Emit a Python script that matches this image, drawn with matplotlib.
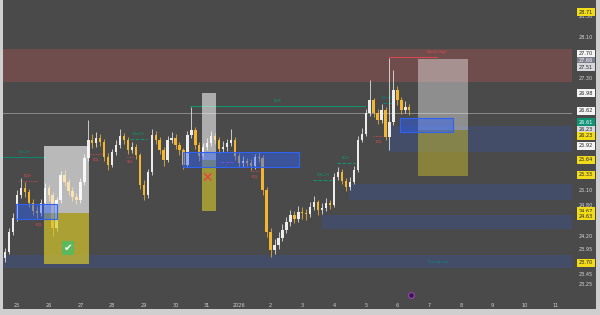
import matplotlib
matplotlib.use("Agg")
import matplotlib.pyplot as plt
import matplotlib.transforms as mtransforms
from matplotlib.patches import Rectangle

# ---------------- data ----------------
date_labels = ['25', '26', '27', '28', '29', '30', '31', '2026', '2', '3', '4',
               '5', '6', '7', '8', '9', '10', '11']
date_days = [0, 1, 2, 3, 4, 5, 6, 7, 8, 9, 10, 11, 12, 13, 14, 15, 16, 17]

candle_start_day = -0.375
candle_step_day = 0.125  # 3h candles

opens = [23.78, 23.89, 24.29, 24.56, 25.01, 25.15, 25.07, 24.85, 24.70, 24.66,
         24.85, 25.15, 25.01, 24.36, 24.91, 25.40, 25.27, 25.09, 24.97, 24.91,
         25.27, 25.74, 26.09, 26.03, 26.13, 26.05, 25.76, 25.60, 25.85, 25.99,
         26.17, 26.09, 25.89, 25.95, 25.79, 25.21, 25.01, 25.46, 26.19, 26.09,
         25.89, 25.70, 26.09, 26.13, 25.99, 25.89, 25.60, 26.19, 26.28, 25.99,
         25.77, 25.95, 26.03, 26.17, 26.09, 25.91, 25.95, 26.03, 26.09, 25.77,
         25.64, 25.68, 25.64, 25.58, 25.76, 25.74, 25.11, 24.29, 23.93, 24.03,
         24.17, 24.32, 24.48, 24.62, 24.54, 24.68, 24.66, 24.64, 24.78, 24.87,
         24.72, 24.76, 24.85, 24.82, 25.36, 25.46, 25.29, 25.17, 25.27, 25.50,
         26.09, 26.21, 26.62, 26.87, 26.62, 26.48, 26.68, 26.15, 26.44, 27.07,
         26.87, 26.68, 26.74]
closes = [23.89, 24.29, 24.56, 25.01, 25.15, 25.07, 24.85, 24.70, 24.66, 24.85,
          25.15, 25.01, 24.36, 24.91, 25.40, 25.27, 25.09, 24.97, 24.91, 25.27,
          25.74, 26.09, 26.03, 26.13, 26.05, 25.76, 25.60, 25.85, 25.99, 26.17,
          26.09, 25.89, 25.95, 25.79, 25.21, 25.01, 25.46, 26.19, 26.09, 25.89,
          25.70, 26.09, 26.13, 25.99, 25.89, 25.60, 26.19, 26.28, 25.99, 25.77,
          25.95, 26.03, 26.17, 26.09, 25.91, 25.95, 26.03, 26.09, 25.77, 25.64,
          25.68, 25.64, 25.58, 25.76, 25.74, 25.11, 24.29, 23.93, 24.03, 24.17,
          24.32, 24.48, 24.62, 24.54, 24.68, 24.66, 24.64, 24.78, 24.87, 24.72,
          24.76, 24.85, 24.82, 25.36, 25.46, 25.29, 25.17, 25.27, 25.50, 26.09,
          26.21, 26.62, 26.87, 26.62, 26.48, 26.68, 26.15, 26.44, 27.07, 26.87,
          26.68, 26.74, 26.68]
highs = [23.98, 24.36, 24.66, 25.10, 25.34, 25.26, 25.12, 24.93, 24.80, 24.94,
         25.24, 25.20, 25.06, 24.98, 25.48, 25.50, 25.33, 25.16, 25.04, 25.35,
         25.82, 26.48, 26.20, 26.25, 26.20, 26.10, 25.84, 25.92, 26.08, 26.30,
         26.22, 26.14, 26.04, 26.00, 25.84, 25.30, 25.52, 26.30, 26.26, 26.15,
         25.95, 26.16, 26.24, 26.20, 26.05, 25.94, 26.26, 26.73, 26.34, 26.04,
         26.02, 26.12, 26.26, 26.22, 26.14, 26.06, 26.10, 26.30, 26.14, 25.84,
         25.78, 25.74, 25.72, 25.82, 25.86, 25.79, 25.16, 24.36, 24.14, 24.28,
         24.44, 24.58, 24.72, 24.70, 24.80, 24.78, 24.74, 24.88, 25.00, 24.92,
         24.86, 24.96, 24.92, 25.44, 25.56, 25.52, 25.34, 25.36, 25.58, 26.16,
         26.32, 26.70, 27.26, 26.92, 26.70, 26.80, 26.74, 27.70, 27.46, 27.14,
         26.94, 26.86, 26.80]
lows = [23.70, 23.85, 24.22, 24.50, 24.95, 24.98, 24.78, 24.62, 24.56, 24.60,
        24.80, 24.90, 24.21, 24.30, 24.86, 25.18, 25.02, 24.90, 24.84, 24.86,
        25.20, 25.68, 25.94, 25.96, 25.98, 25.68, 25.50, 25.55, 25.80, 25.94,
        26.00, 25.82, 25.84, 25.72, 25.12, 24.92, 24.96, 25.40, 26.00, 25.82,
        25.58, 25.66, 26.02, 25.92, 25.80, 25.52, 25.56, 26.12, 25.92, 25.68,
        25.72, 25.90, 25.98, 26.01, 25.84, 25.86, 25.88, 25.98, 25.70, 25.55,
        25.56, 25.57, 25.50, 25.52, 25.66, 25.02, 24.18, 23.80, 23.86, 23.96,
        24.10, 24.26, 24.40, 24.46, 24.48, 24.55, 24.52, 24.58, 24.72, 24.62,
        24.64, 24.70, 24.74, 24.78, 25.30, 25.22, 25.08, 25.10, 25.22, 25.46,
        26.04, 26.16, 26.56, 26.54, 26.40, 26.42, 26.08, 25.89, 26.38, 26.78,
        26.60, 26.62, 26.58]

# premium (red) zone
red_zone_start = -0.44
red_zone_low, red_zone_high = 27.22, 27.87

# demand zones (muted blue), running to right edge
zone_starts = [11.70, 10.47, 9.62, -0.44]
zone_lows = [25.85, 24.91, 24.34, 23.58]
zone_highs = [26.36, 25.23, 24.62, 23.84]

# order blocks (bright blue)
ob_starts = [-0.03, 5.24, 12.08]
ob_ends = [1.26, 8.90, 13.75]
ob_lows = [24.54, 25.56, 26.24]
ob_highs = [24.83, 25.85, 26.52]

# position boxes
pos_starts = [0.85, 5.84, 12.65]
pos_ends = [2.27, 6.28, 14.23]
pos_tops = [25.97, 27.01, 27.675]
pos_entries = [24.66, 25.70, 26.28]
pos_bottoms = [23.66, 24.70, 25.38]
pos_alpha = [0.62, 0.55, 0.38]
pos_marks = ['\u2714', '\u2715', '']
pos_mark_day = [1.61, 5.99, 0]
pos_mark_price = [23.97, 25.34, 0]

# structure lines
line_x0 = [-0.44, 5.46, 0.03, 0.50, 2.30, 3.47, 3.56, 6.40, 7.35, 9.34, 10.09, 11.23, 11.55, 11.74]
line_x1 = [0.88, 10.98, 0.63, 0.88, 2.71, 3.66, 4.10, 6.81, 7.67, 9.97, 10.66, 11.61, 11.83, 13.25]
line_price = [25.755, 26.754, 25.285, 24.54, 25.814, 25.755, 26.108, 25.657, 25.48, 25.304,
              25.637, 26.166, 26.813, 27.714]
line_color = ['#0b8a72', '#0b9a6f', '#e04850', '#e04850', '#e04850', '#e04850', '#0b9a6f',
              '#b040c0', '#e04850', '#0b9a6f', '#0b9a6f', '#e04850', '#0b8a72', '#e04850']
line_style = ['-', '-', ':', ':', ':', ':', '--', '--', ':', '--', '--', ':', '--', '-']
line_label = ['CHoCH', 'BOS', 'EQH', 'EQL', 'EQL', 'SSL', 'CHoCH', '', 'EQL', 'CHoCH',
              'BOS', 'EQL', 'CHoCH', 'Weak High']
line_label_above = [True, True, True, False, False, False, True, True, False, True,
                    True, False, True, True]
current_price = 26.62
strong_low_day, strong_low_price = 13.28, 23.70

# right price scale
tick_values = [28.50, 28.10, 27.30, 25.70, 25.40, 25.10, 24.80, 24.20, 23.95, 23.45, 23.25]
box_values = [28.90, 28.71, 27.70, 27.66, 27.51, 26.98, 26.62, 26.61, 26.23, 26.23,
              25.92, 25.64, 25.33, 24.67, 24.63, 23.70]
box_bg = ['#111111', '#f2dc1a', '#f4f4f4', '#7d7f8c', '#d6d8de', '#f4f4f4', '#f4f4f4', '#0f9478',
          '#d6d8de', '#f2dc1a', '#f4f4f4', '#f2dc1a', '#f2dc1a', '#f2dc1a', '#f2dc1a', '#f2dc1a']
box_fg = ['#ffffff', '#222222', '#222222', '#ffffff', '#222222', '#222222', '#222222', '#ffffff',
          '#222222', '#222222', '#222222', '#222222', '#222222', '#222222', '#222222', '#222222']
box_nudge_px = [0, 6, -4, 1, 0, -1, -2, 9, -3, 3, -3, -3, -4, -1, 2, 1]

event_days = [12.43]

# ---------------- layout ----------------
W, H, DPI = 600, 315, 100
BG = '#4a4a4a'
fig = plt.figure(figsize=(W / DPI, H / DPI), dpi=DPI, facecolor='#cfcfcf')
fig.patches.append(Rectangle((3 / W, (H - 309) / H), 593 / W, 309 / H,
                             transform=fig.transFigure, facecolor=BG, edgecolor='none', zorder=-10))
ax = fig.add_axes([3 / W, (H - 309) / H, 569 / W, 309 / H])
ax.set_facecolor('none')
XMIN, XMAX = -0.442, 17.508
ax.set_xlim(XMIN, XMAX)
ax.set_ylim(22.777, 28.831)
for s in ax.spines.values():
    s.set_visible(False)
ax.set_xticks([])
ax.set_yticks([])

# zones
ax.add_patch(Rectangle((red_zone_start, red_zone_low), XMAX - red_zone_start, red_zone_high - red_zone_low,
                       facecolor=(1.0, 0.36, 0.36, 0.21), edgecolor='none', zorder=1))
for s, lo, hi in zip(zone_starts, zone_lows, zone_highs):
    ax.add_patch(Rectangle((s, lo), XMAX - s, hi - lo, facecolor=(0.16, 0.38, 1.0, 0.17),
                           edgecolor='none', zorder=1))

# current price line
ax.axhline(current_price, color='#939393', lw=0.6, zorder=1.5)

# structure lines
for x0, x1, p, c, ls, lab, above in zip(line_x0, line_x1, line_price, line_color, line_style,
                                        line_label, line_label_above):
    ax.plot([x0, x1], [p, p], color=c, lw=0.7, ls=ls, zorder=2)
    if lab:
        lx = x1 if lab == 'Weak High' else (x0 + x1) / 2
        ax.annotate(lab, (lx, p), xytext=(0, 2.2 if above else -2.2), textcoords='offset points',
                    ha='center', va='bottom' if above else 'top', fontsize=2.6, color=c, zorder=2)
ax.text(strong_low_day, strong_low_price, 'Strong Low', fontsize=2.6, color='#0b8a72',
        ha='center', va='center', zorder=2)

# candles
up_col, dn_col = '#ececec', '#f2b632'
for i, (o, h, l, c) in enumerate(zip(opens, highs, lows, closes)):
    x = candle_start_day + candle_step_day * i
    col = up_col if c >= o else dn_col
    ax.vlines(x, l, h, colors=col, lw=0.55, zorder=3)
    ax.bar(x, max(abs(c - o), 0.012), bottom=min(o, c), width=candle_step_day * 0.6,
           color=col, edgecolor='none', zorder=3)

# position boxes
for s, e, t, en, b, a in zip(pos_starts, pos_ends, pos_tops, pos_entries, pos_bottoms, pos_alpha):
    ax.add_patch(Rectangle((s, en), e - s, t - en, facecolor=(1, 1, 1, a), edgecolor='none', zorder=4))
    ax.add_patch(Rectangle((s, b), e - s, en - b, facecolor=(0.86, 0.80, 0.16, a + 0.05),
                           edgecolor='none', zorder=4))
ax.text(pos_mark_day[0], pos_mark_price[0], pos_marks[0], fontsize=7.5, color='white', ha='center',
        va='center', zorder=6, family='DejaVu Sans',
        bbox=dict(boxstyle='square,pad=0.18', facecolor='#5cb85c', edgecolor='none'))
ax.text(pos_mark_day[1], pos_mark_price[1], pos_marks[1], fontsize=10, color='#f03a47', ha='center',
        va='center', zorder=6, family='DejaVu Sans')

# order blocks
for s, e, lo, hi in zip(ob_starts, ob_ends, ob_lows, ob_highs):
    ax.add_patch(Rectangle((s, lo), e - s, hi - lo, facecolor=(0.16, 0.38, 1.0, 0.45),
                           edgecolor='#2f63f0', lw=0.8, zorder=5))

# date labels
btrans = mtransforms.blended_transform_factory(ax.transData, ax.transAxes)
for d, lab in zip(date_days, date_labels):
    ax.text(d, 0.012, lab, transform=btrans, ha='center', va='center', fontsize=3.6, color='#d0d0d0')

# event marker
for d in event_days:
    ax.plot([d], [0.045], transform=btrans, marker='o', ms=4.2, mfc='#3b1450', mec='#8e44ad',
            mew=0.9, zorder=6, clip_on=False)

# right price scale
rtrans = mtransforms.blended_transform_factory(ax.transAxes, ax.transData)
XLAB = (586 - 3) / 569
for v in tick_values:
    ax.text(XLAB, v, f'{v:.2f}', transform=rtrans, ha='center', va='center', fontsize=3.6,
            color='#d8d8d8', clip_on=False)
for v, bg, fg, dy in zip(box_values, box_bg, box_fg, box_nudge_px):
    ax.annotate(f'{v:.2f}', (XLAB, v), xycoords=rtrans, xytext=(0, -dy * 72 / DPI),
                textcoords='offset points', ha='center', va='center', fontsize=3.6, color=fg,
                annotation_clip=False, zorder=7,
                bbox=dict(boxstyle='square,pad=0.3', facecolor=bg, edgecolor='none'))

fig.savefig('out.png', dpi=DPI, facecolor=fig.get_facecolor())
